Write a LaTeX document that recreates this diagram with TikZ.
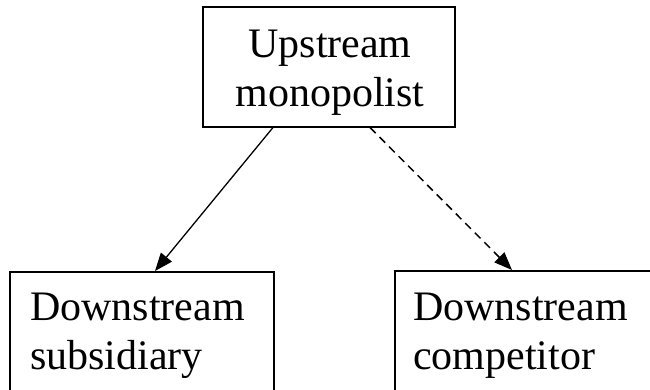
\documentclass[tikz,border=0pt]{standalone}
\usepackage{fontspec}
\setmainfont{Liberation Serif}
\usetikzlibrary{arrows.meta}
\begin{document}
\begin{tikzpicture}[x=1pt,y=-1pt,
  box/.style={draw, line width=1.5pt, inner sep=0pt, anchor=north west},
  lbl/.style={inner sep=0pt, font=\fontsize{42}{49}\selectfont},
  conn/.style={line width=1.3pt, -{Triangle[length=18pt,width=14pt]}}]
\useasboundingbox (0,0) rectangle (650,389);
\clip (0,0) rectangle (650,389);
\node[box, minimum width=252pt, minimum height=120pt] (up) at (202,6) {};
\node[box, minimum width=264pt, minimum height=160pt] (sub) at (9,271) {};
\node[box, minimum width=264pt, minimum height=160pt] (comp) at (394,270) {};
\node[lbl, anchor=base] (uplbl) at (330,57) {\begin{tabular}[t]{@{}c@{}}Upstream\\monopolist\end{tabular}};
\node[lbl, anchor=base west] (sublbl) at (30,320) {\begin{tabular}[t]{@{}l@{}}Downstream\\subsidiary\end{tabular}};
\node[lbl, anchor=base west] (complbl) at (413,320) {\begin{tabular}[t]{@{}l@{}}Downstream\\competitor\end{tabular}};
\draw[conn] ([xshift=71pt]up.south west) -- ([xshift=146pt]sub.north west);
\draw[conn, line width=1.5pt, dash pattern=on 8pt off 5.5pt] ([xshift=168pt]up.south west) -- ([xshift=118pt]comp.north west);
\end{tikzpicture}
\end{document}
